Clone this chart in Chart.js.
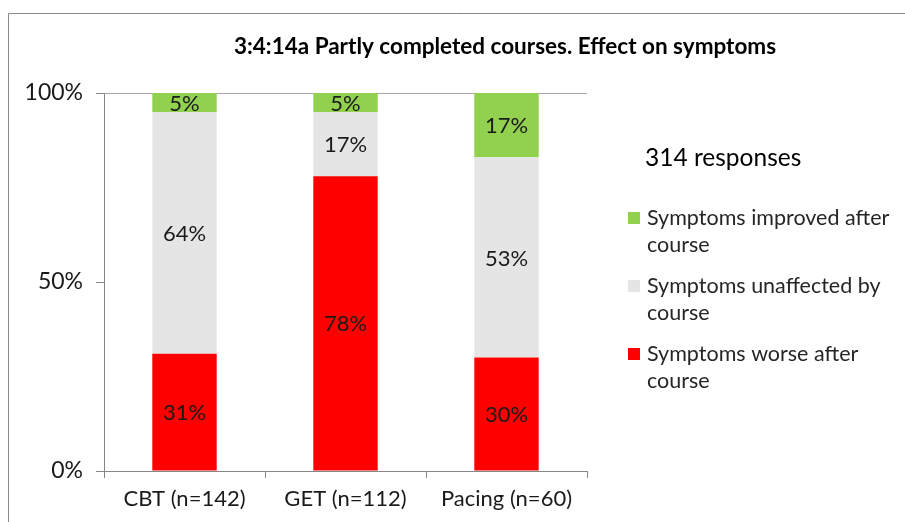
<!DOCTYPE html>
<html>
<head>
<meta charset="utf-8">
<script src="https://cdn.jsdelivr.net/npm/chart.js@4.4.1/dist/chart.umd.min.js"></script>
<style>
  html, body { margin: 0; padding: 0; background: #fff; }
  #wrap { width: 905px; height: 522px; position: relative; }
</style>
</head>
<body>
<div id="wrap"><canvas id="chart"></canvas></div>
<script>
// Chart data
const categories = ['CBT (n=142)', 'GET (n=112)', 'Pacing (n=60)'];
const worse = [31, 78, 30];
const unaffected = [64, 17, 53];
const improved = [5, 5, 17];
const yTicks = [0, 50, 100];

const seriesLabels = {
    worse: 'Symptoms worse after course',
    unaffected: 'Symptoms unaffected by course',
    improved: 'Symptoms improved after course'
};

const COLORS = {
    red: '#FF0000',
    gray: '#E5E5E5',
    green: '#92D050',
    axis: '#878787',
    text: '#1a1a1a',
    legendText: '#262626'
};

const FONT = 'Lato, "Open Sans", sans-serif';
const TITLE = '3:4:14a Partly completed courses. Effect on symptoms';
const SUBTITLE = '314 responses';

// white background, outer frame and title
const framePlugin = {
    id: 'frame',
    beforeDraw(chart) {
        const ctx = chart.ctx;
        ctx.save();
        ctx.fillStyle = '#fff';
        ctx.fillRect(0, 0, chart.width, chart.height);
        ctx.strokeStyle = '#8a8a8a';
        ctx.lineWidth = 1;
        ctx.beginPath();
        ctx.moveTo(8.5, chart.height);
        ctx.lineTo(8.5, 13.5);
        ctx.lineTo(chart.width, 13.5);
        ctx.stroke();

        ctx.fillStyle = '#000';
        ctx.font = 'bold 22.5px ' + FONT;
        ctx.textAlign = 'center';
        ctx.textBaseline = 'middle';
        ctx.fillText(TITLE, 505, 47);
        ctx.restore();
    }
};

// percentage labels in the middle of each segment
const valueLabels = {
    id: 'valueLabels',
    afterDatasetsDraw(chart) {
        const ctx = chart.ctx;
        ctx.save();
        ctx.font = '22px ' + FONT;
        ctx.fillStyle = COLORS.text;
        ctx.textAlign = 'center';
        ctx.textBaseline = 'middle';
        chart.data.datasets.forEach((ds, di) => {
            chart.getDatasetMeta(di).data.forEach((bar, i) => {
                const mid = (bar.y + bar.base) / 2;
                ctx.fillText(ds.data[i] + '%', bar.x, mid + 1);
            });
        });
        ctx.restore();
    }
};

function wrapText(ctx, text, maxWidth) {
    const words = text.split(' ');
    const lines = [];
    let line = '';
    words.forEach(w => {
        const test = line ? line + ' ' + w : w;
        if (ctx.measureText(test).width > maxWidth && line) {
            lines.push(line);
            line = w;
        } else {
            line = test;
        }
    });
    if (line) lines.push(line);
    return lines;
}

// legend on the right, top series first, labels wrapped
const sideLegend = {
    id: 'sideLegend',
    afterDraw(chart) {
        const ctx = chart.ctx;
        ctx.save();
        ctx.textAlign = 'left';
        ctx.textBaseline = 'middle';
        ctx.fillStyle = '#000';
        ctx.font = '24.5px ' + FONT;
        ctx.fillText(SUBTITLE, 645, 158);

        ctx.font = '21.5px ' + FONT;
        const items = chart.data.datasets.slice().reverse();
        let y = 218;
        items.forEach(ds => {
            ctx.fillStyle = ds.backgroundColor;
            ctx.fillRect(628, y - 6, 12, 12);
            ctx.fillStyle = COLORS.legendText;
            const lines = wrapText(ctx, ds.label, 252);
            lines.forEach((ln, k) => ctx.fillText(ln, 647, y + k * 27));
            y += 68;
        });
        ctx.restore();
    }
};

const ctx = document.getElementById('chart').getContext('2d');
new Chart(ctx, {
    type: 'bar',
    data: {
        labels: categories,
        datasets: [
            { label: seriesLabels.worse, data: worse, backgroundColor: COLORS.red },
            { label: seriesLabels.unaffected, data: unaffected, backgroundColor: COLORS.gray },
            { label: seriesLabels.improved, data: improved, backgroundColor: COLORS.green }
        ]
    },
    options: {
        responsive: true,
        maintainAspectRatio: false,
        animation: false,
        layout: { padding: { left: 0, right: 318, top: 93, bottom: 0 } },
        datasets: {
            bar: { categoryPercentage: 1, barPercentage: 0.4, borderWidth: 0 }
        },
        plugins: {
            legend: { display: false },
            title: { display: false },
            tooltip: { enabled: false }
        },
        scales: {
            x: {
                stacked: true,
                border: { color: COLORS.axis },
                grid: {
                    offset: true,
                    drawOnChartArea: false,
                    tickLength: 7,
                    color: COLORS.axis
                },
                ticks: {
                    color: COLORS.text,
                    font: { family: FONT, size: 22 },
                    padding: 8
                },
                afterFit(scale) { scale.height = 51; }
            },
            y: {
                stacked: true,
                min: 0,
                max: 100,
                afterBuildTicks(scale) {
                    scale.ticks = yTicks.map(v => ({ value: v }));
                },
                border: { color: COLORS.axis },
                grid: {
                    tickLength: 8,
                    tickColor: COLORS.axis,
                    color: c => c.tick && c.tick.value === 100 ? '#a6a6a6' : 'rgba(0,0,0,0)'
                },
                ticks: {
                    color: COLORS.text,
                    font: { family: FONT, size: 23 },
                    padding: 13,
                    callback: v => v + '%'
                },
                afterFit(scale) { scale.width = 104; }
            }
        }
    },
    plugins: [framePlugin, valueLabels, sideLegend]
});
</script>
</body>
</html>
